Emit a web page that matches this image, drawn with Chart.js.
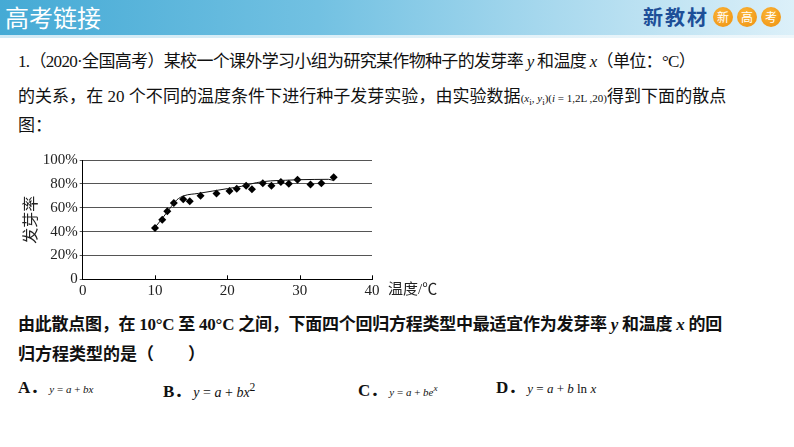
<!DOCTYPE html>
<html lang="zh">
<head>
<meta charset="utf-8">
<script src="https://cdn.jsdelivr.net/npm/chart.js@4.4.1/dist/chart.umd.min.js"></script>
<style>
  html, body { margin: 0; padding: 0; background: #fff; }
  #page { position: relative; width: 794px; height: 447px; overflow: hidden;
          font-family: "Liberation Serif", "Noto Sans CJK SC", serif; color: #111; }
  #bar { position: absolute; left: 0; top: 0; width: 794px; height: 35px;
         background: linear-gradient(to right, #45aad5 0%, #72c1e2 40%, #a9d9ee 70%, #dcf0f9 100%); }
  #bar2 { position: absolute; left: 0; top: 35px; width: 794px; height: 3px;
          background: linear-gradient(to right, #cfe9f5, #eef7fb); }
  #title { position: absolute; left: 5px; top: 2px; font: 24px/30px "Noto Sans CJK SC"; color: #fff; }
  #brand { position: absolute; left: 643px; top: 4px; font: bold 20px/26px "Noto Sans CJK SC";
           color: #1d4f98; letter-spacing: 2px; }
  .dot { position: absolute; top: 7px; width: 20px; height: 20px; border-radius: 50%;
         background: radial-gradient(circle at 40% 35%, #fbb63a, #ee8f0c);
         color: #fff; font: 12px/20px "Noto Sans CJK SC"; text-align: center; }
  .ln { position: absolute; left: 18px; white-space: nowrap; font-size: 17px; line-height: 20px; }
  .b { font-weight: bold; }
  .m { font-family: "Liberation Serif", serif; font-style: italic; }
  .sm { font-size: 11px; font-family: "Liberation Serif", serif; letter-spacing: 0; }
  .opt { position: absolute; top: 378px; white-space: nowrap; font-size: 17px; line-height: 20px; font-weight: bold; }
  .f { font-family: "Liberation Serif", serif; font-weight: normal; margin-left: 2px; }
  #chartBox { position: absolute; left: 20px; top: 145px; }
  #xname { position: absolute; left: 388px; top: 280px; font-size: 15px; line-height: 18px; white-space: nowrap; color: #222; }
</style>
</head>
<body>
<div id="page">
  <div id="bar"></div>
  <div id="bar2"></div>
  <div id="title">高考链接</div>
  <div id="brand">新教材</div>
  <div class="dot" style="left:713px">新</div>
  <div class="dot" style="left:737px">高</div>
  <div class="dot" style="left:761px">考</div>

  <div class="ln fit" data-w="677" style="top:52px">1.（2020·全国高考）某校一个课外学习小组为研究某作物种子的发芽率 <span class="m">y</span> 和温度 <span class="m">x</span>（单位：°C）</div>
  <div class="ln fit" data-w="709" style="top:87px">的关系，在 20 个不同的温度条件下进行种子发芽实验，由实验数据<span class="sm">(<i>x</i><sub>i</sub>, <i>y</i><sub>i</sub>)(<i>i</i> = 1,2L ,20)</span>得到下面的散点</div>
  <div class="ln" style="top:116px">图：</div>

  <div id="chartBox"><canvas id="c" width="430" height="160"></canvas></div>
  <div id="xname">温度/℃</div>

  <div class="ln b fit" data-w="704" style="top:315px">由此散点图，在 10°C 至 40°C 之间，下面四个回归方程类型中最适宜作为发芽率 <span class="m">y</span> 和温度 <span class="m">x</span> 的回</div>
  <div class="ln b" style="top:345px">归方程类型的是（　　）</div>

  <div class="opt" style="left:18px">A．<span class="f" style="font-size:11px"><i>y</i> = <i>a</i> + <i>bx</i></span></div>
  <div class="opt" style="left:163px">B．<span class="f" style="font-size:14px"><i>y</i> = <i>a</i> + <i>bx</i><sup>2</sup></span></div>
  <div class="opt" style="left:358px">C．<span class="f" style="font-size:11px"><i>y</i> = <i>a</i> + <i>be</i><sup><i>x</i></sup></span></div>
  <div class="opt" style="left:496px">D．<span class="f" style="font-size:13px"><i>y</i> = <i>a</i> + <i>b</i> ln <i>x</i></span></div>
</div>

<script>
'use strict';

var temps = [10, 11, 11.7, 12.6, 13.9, 14.8, 16.3, 18.5, 20.3, 21.3, 22.6, 23.4, 24.9, 26.1, 27.4, 28.5, 29.7, 31.5, 33.0, 34.7];
var rates = [43, 50, 57, 64, 67, 65.5, 70, 72, 74, 76, 78.5, 75.5, 80.5, 78.5, 81.5, 80, 83.5, 79.5, 80.5, 85.5];

// courbe de tendance
var curveX = [10, 11, 12, 13, 14, 16, 18, 20, 22, 24, 26, 28, 30, 32, 34, 34.7];
var curveY = [43.5, 51, 59, 66.5, 70, 72, 74, 76, 78, 81, 82.5, 83, 83.5, 83.7, 83.8, 82.7];

var xTicks = [0, 10, 20, 30, 40];
var yTicks = [0, 20, 40, 60, 80, 100];

/********************** Ajustement de la largeur des lignes de texte **********************/
document.querySelectorAll('.fit').forEach(function(el) {
  var target = parseFloat(el.getAttribute('data-w'));
  var w = el.getBoundingClientRect().width;
  var n = el.textContent.length;
  el.style.letterSpacing = ((target - w) / n).toFixed(3) + 'px';
});

/********************** Construction du graphique **********************/
var points = temps.map(function(t, i) { return { x: t, y: rates[i] }; });
var curve = curveX.map(function(t, i) { return { x: t, y: curveY[i] }; });

// petites graduations vers le haut sur l'axe des x
var innerTicks = {
  id: 'innerTicks',
  beforeDatasetsDraw: function(chart) {
    var ctx = chart.ctx;
    var xs = chart.scales.x;
    var bottom = chart.chartArea.bottom;
    ctx.save();
    ctx.strokeStyle = '#000';
    ctx.lineWidth = 1;
    xTicks.forEach(function(v) {
      if (v === 0) return;
      var px = Math.round(xs.getPixelForValue(v)) + 0.5;
      ctx.beginPath();
      ctx.moveTo(px, bottom);
      ctx.lineTo(px, bottom - 4);
      ctx.stroke();
    });
    ctx.restore();
  }
};

var serif = { family: '"Liberation Serif", serif', size: 15 };

new Chart(document.getElementById('c').getContext('2d'), {
  type: 'scatter',
  data: {
    datasets: [{
      type: 'line',
      data: curve,
      borderColor: '#111',
      borderWidth: 1,
      pointRadius: 0,
      fill: false,
      cubicInterpolationMode: 'monotone'
    }, {
      data: points,
      pointStyle: 'rectRot',
      pointRadius: 4,
      backgroundColor: '#000',
      borderColor: '#000',
      borderWidth: 0
    }]
  },
  options: {
    responsive: false,
    devicePixelRatio: 1,
    animation: false,
    layout: { padding: { top: 15, right: 78, left: 0, bottom: 0 } },
    plugins: { legend: { display: false }, tooltip: { enabled: false } },
    scales: {
      x: {
        type: 'linear',
        min: 0,
        max: 40,
        afterBuildTicks: function(s) { s.ticks = xTicks.map(function(v) { return { value: v }; }); },
        afterFit: function(s) { s.height = 25.7; },
        grid: { drawOnChartArea: false, drawTicks: false },
        border: { color: '#000', width: 1 },
        ticks: { font: serif, color: '#222', padding: 3, maxRotation: 0 }
      },
      y: {
        min: 0,
        max: 100,
        afterBuildTicks: function(s) { s.ticks = yTicks.map(function(v) { return { value: v }; }); },
        afterFit: function(s) { s.width = 62.7; },
        grid: { color: '#555', lineWidth: 1, tickLength: 3 },
        border: { color: '#000', width: 1 },
        ticks: {
          font: serif, color: '#222', padding: 2,
          callback: function(v) { return v === 0 ? '0' : v + '%'; }
        },
        title: {
          display: true,
          text: '发芽率',
          font: { family: '"Noto Sans CJK SC"', size: 16 },
          color: '#222',
          padding: 0
        }
      }
    }
  },
  plugins: [innerTicks]
});
</script>
</body>
</html>
